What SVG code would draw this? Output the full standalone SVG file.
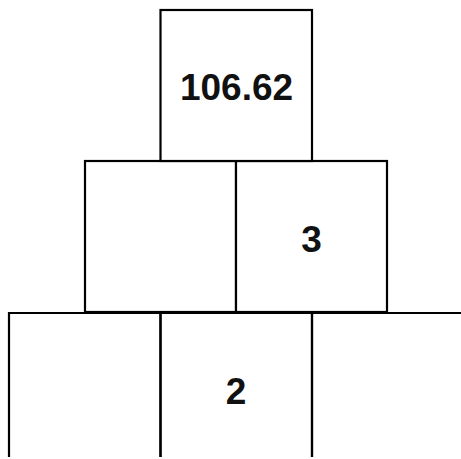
<svg xmlns="http://www.w3.org/2000/svg" width="461" height="459" viewBox="0 0 461 459">
<style>
.box{fill:#fff;stroke:#000;stroke-width:2.2}
.open{fill:none;stroke:#000;stroke-width:2.2}
.lbl{font-family:"Liberation Sans",Arial,sans-serif;font-weight:bold;font-size:37px;fill:#111;text-anchor:middle}
</style>
<rect width="461" height="459" fill="#fff"/>
<g id="row3">
<g id="b31"><path class="open" d="M9,457 V313 H160.5 V457"/></g>
<g id="b32"><path class="open" d="M160.5,457 V313 H312 V457"/><text class="lbl" x="236" y="404">2</text></g>
<g id="b33"><path class="open" d="M312,457 V313 H470"/></g>
</g>
<g id="row2">
<g id="b21"><rect class="box" x="85" y="161" width="151" height="151"/></g>
<g id="b22"><rect class="box" x="236" y="161" width="151" height="151"/><text class="lbl" x="311.5" y="251.5">3</text></g>
</g>
<g id="row1">
<g id="b11"><rect class="box" x="160.5" y="10" width="151.5" height="151"/><text class="lbl" x="236.5" y="100">106.62</text></g>
</g>
<g id="connectors"/>
</svg>
